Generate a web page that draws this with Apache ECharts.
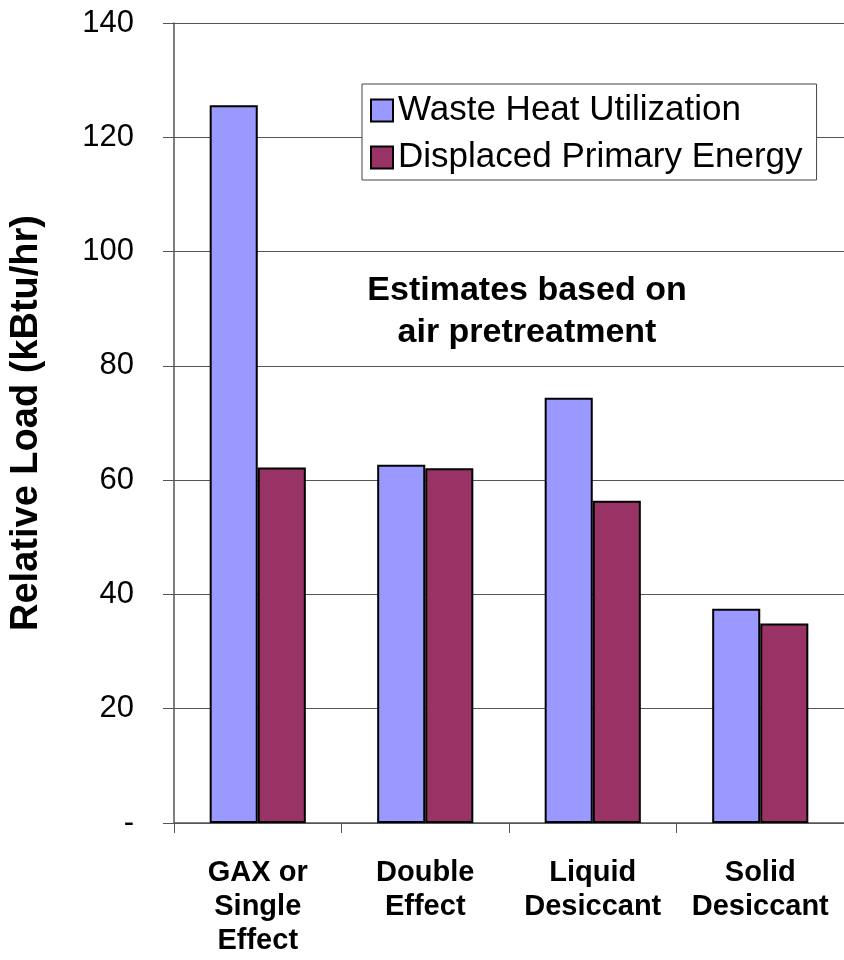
<!DOCTYPE html>
<html>
<head>
<meta charset="utf-8">
<script src="https://cdn.jsdelivr.net/npm/echarts@6/dist/echarts.min.js"></script>
<style>
html,body{margin:0;padding:0;background:#fff;}
#c{width:844px;height:960px;}
</style>
</head>
<body>
<div id="c"></div>
<script>
var categories = ["GAX or\nSingle\nEffect", "Double\nEffect", "Liquid\nDesiccant", "Solid\nDesiccant"];
var wasteHeat = [125.6, 62.7, 74.4, 37.5];
var displacedPrimary = [62.2, 62.1, 56.4, 34.9];
var seriesNames = ["Waste Heat Utilization", "Displaced Primary Energy"];
var yTicks = {min: 0, max: 140, step: 20};
var yAxisTitle = "Relative Load (kBtu/hr)";
var annotation = "Estimates based on\nair pretreatment";

var FONT = "Arial, 'Liberation Sans', sans-serif";
var chart = echarts.init(document.getElementById('c'), null, {renderer: 'canvas'});
chart.setOption({
  animation: false,
  backgroundColor: '#ffffff',
  grid: {left: 174, top: 23, width: 676, height: 800, containLabel: false},
  legend: {
    orient: 'vertical',
    left: 362, top: 84,
    data: seriesNames,
    icon: 'rect',
    itemWidth: 22, itemHeight: 22,
    itemGap: 12,
    padding: [9, 14, 5, 8],
    borderColor: '#444', borderWidth: 1,
    backgroundColor: '#fff',
    textStyle: {fontFamily: FONT, fontSize: 35, color: '#000'}
  },
  xAxis: {
    type: 'category',
    data: categories,
    axisLine: {lineStyle: {color: '#555', width: 1.5}},
    axisTick: {show: true, length: 10, lineStyle: {color: '#555'}},
    axisLabel: {fontFamily: FONT, fontWeight: 'bold', fontSize: 29, color: '#000', lineHeight: 34, margin: 33, interval: 0}
  },
  yAxis: {
    type: 'value',
    min: yTicks.min, max: yTicks.max, interval: yTicks.step,
    name: yAxisTitle,
    nameLocation: 'middle',
    nameGap: 128,
    nameTextStyle: {fontFamily: FONT, fontWeight: 'bold', fontSize: 38, color: '#000'},
    axisLine: {show: true, lineStyle: {color: '#555', width: 1.5}},
    axisTick: {show: true, length: 11, lineStyle: {color: '#555'}},
    axisLabel: {
      fontFamily: FONT, fontSize: 31, color: '#000', margin: 40,
      formatter: function (v) { return v === 0 ? '-' : String(v); }
    },
    splitLine: {show: true, lineStyle: {color: '#555', width: 1.2}}
  },
  graphic: [{
    type: 'text',
    x: 527, y: 312,
    style: {
      text: annotation,
      fontFamily: FONT, fontWeight: 'bold', fontSize: 34, lineHeight: 42,
      fill: '#000', textAlign: 'center', textVerticalAlign: 'middle'
    },
    z: 10
  }],
  series: [
    {
      name: seriesNames[0], type: 'bar', data: wasteHeat,
      barGap: '0%', barCategoryGap: '42.6%',
      itemStyle: {color: '#9999FF', borderColor: '#000', borderWidth: 2}
    },
    {
      name: seriesNames[1], type: 'bar', data: displacedPrimary,
      barGap: '0%', barCategoryGap: '42.6%',
      itemStyle: {color: '#993366', borderColor: '#000', borderWidth: 2}
    }
  ]
});
</script>
</body>
</html>
